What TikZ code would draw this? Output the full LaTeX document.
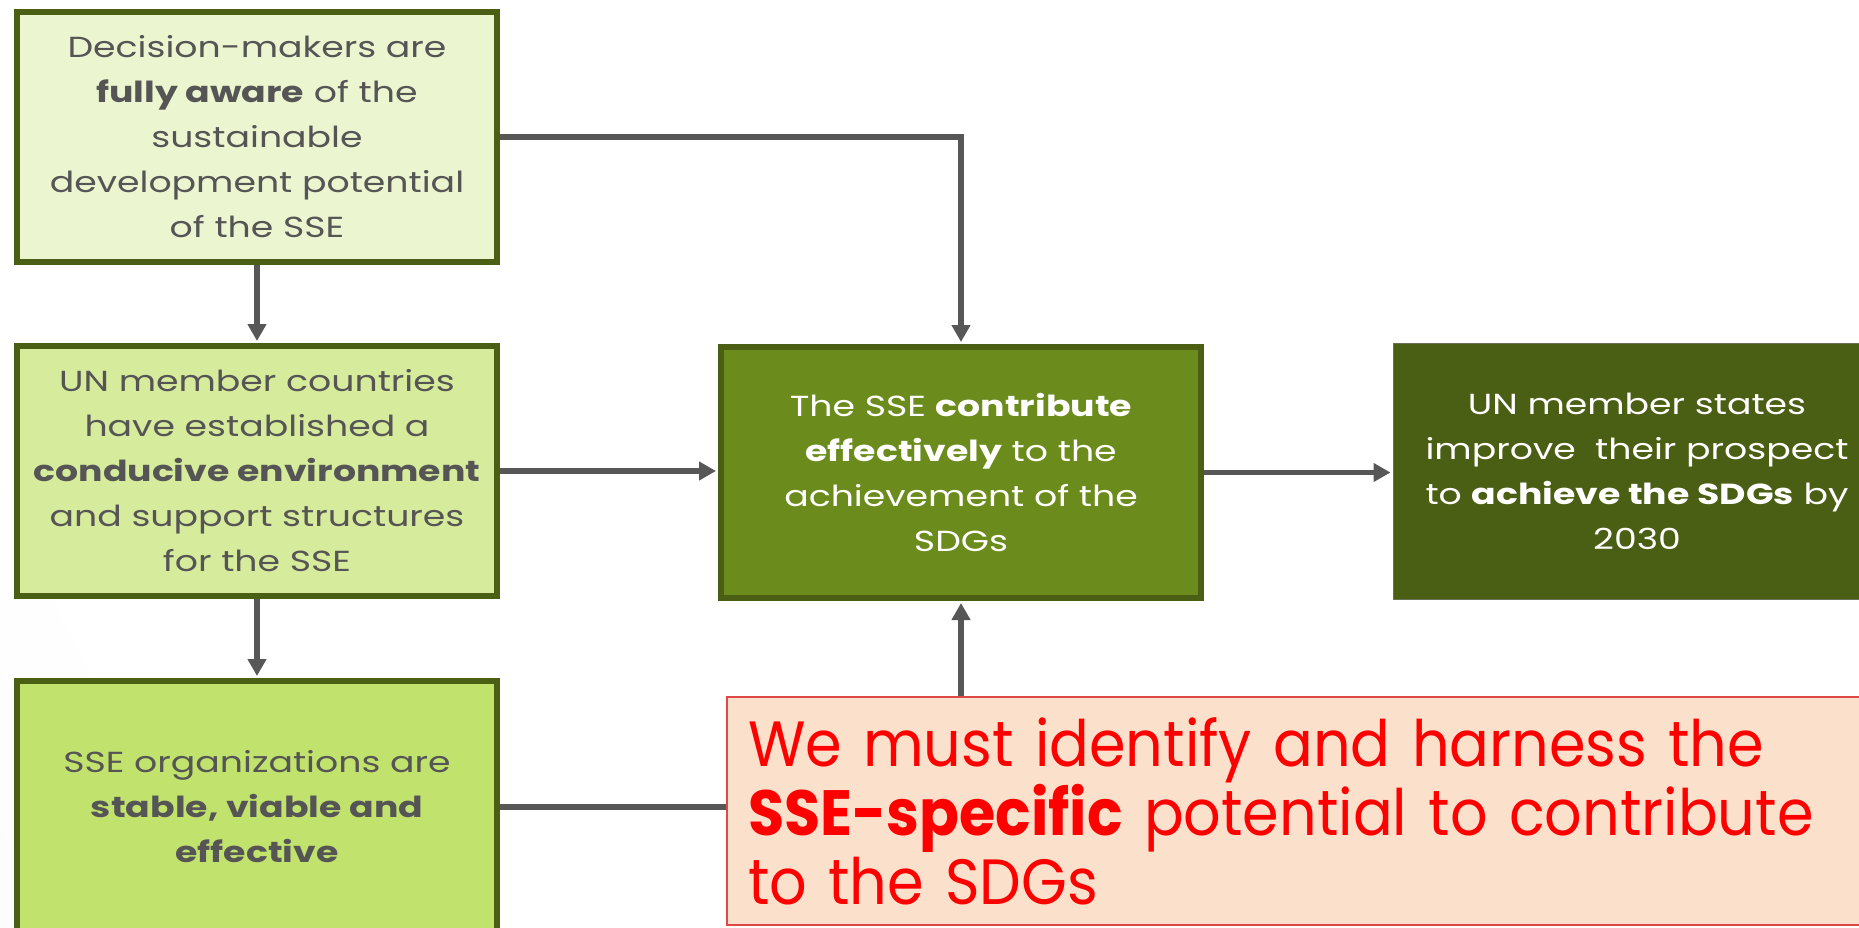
\documentclass[tikz,border=0pt]{standalone}
\usepackage{fontspec}
\setmainfont{Poppins}[FakeStretch=1.25]
\newfontfamily\redfont{Poppins}[FakeStretch=0.92]
\usetikzlibrary{arrows.meta,calc}
\definecolor{bord}{HTML}{4A5E14}
\definecolor{fa}{HTML}{EBF5D0}
\definecolor{fb}{HTML}{D7EB9C}
\definecolor{fc}{HTML}{C2E26E}
\definecolor{fd}{HTML}{6B8C1C}
\definecolor{fe}{HTML}{4A5E14}
\definecolor{txt}{HTML}{555555}
\definecolor{lin}{HTML}{575757}
\definecolor{redfill}{HTML}{FBE1CC}
\definecolor{redline}{HTML}{E04848}
\definecolor{redtxt}{HTML}{FF0000}
\definecolor{bgg}{HTML}{E3E3E3}
\pgfdeclareradialshading{bgshade}{\pgfpoint{0bp}{0bp}}{color(0bp)=(white); color(12bp)=(white); color(25bp)=(bgg); color(50bp)=(bgg)}
\tikzset{
  box/.style={draw=bord, line width=6pt, rectangle, minimum width=480pt, minimum height=250pt,
    inner sep=0pt, align=center, text=txt, font=\fontsize{29}{45}\selectfont},
  darkbox/.style={box, text=white},
  conn/.style={draw=lin, line width=5.5pt},
  arr/.style={conn, -{Triangle[length=17pt,width=18pt]}, shorten >=2pt},
}
\begin{document}
\begin{tikzpicture}[x=1pt,y=-1pt]
\useasboundingbox (0,0) rectangle (1859,927);
\begin{scope}
\clip (0,0) rectangle (1859,927);
\fill[bgg] (0,0) rectangle (1859,927);
\shade[shading=bgshade] (1900,-300) circle (4200);

\node[box, fill=fa] (b1) at (257,137) {Decision-makers are\\\textbf{fully aware} of the\\sustainable\\development potential\\of the SSE};
\node[box, fill=fb] (b2) at (257,471) {UN member countries\\have established a\\\textbf{conducive environment}\\and support structures\\for the SSE};
\node[box, fill=fc, minimum height=252pt] (b3) at (257,807) {SSE organizations are\\\textbf{stable, viable and}\\\textbf{effective}};
\node[darkbox, fill=fd, minimum height=251pt] (b4) at (961,472.5) {The SSE \textbf{contribute}\\\textbf{effectively} to the\\achievement of the\\SDGs};
\node[darkbox, fill=fe, draw=gray!60!fe, line width=1pt, minimum width=488pt, minimum height=256pt] (b5) at (1637,471) {UN member states\\improve\ \ their prospect\\to \textbf{achieve the SDGs} by\\2030};
\node[draw=redline, line width=1.5pt, fill=redfill, rectangle, minimum height=228pt,
  text width=1160pt, inner xsep=21pt, inner ysep=0pt, align=left, text=redtxt,
  font=\redfont\fontsize{64}{69}\selectfont] (rd) at (1328,811)
  {\hyphenpenalty=10000 We must identify and harness the\\\textbf{SSE-specific} potential to contribute\\to the SDGs};

\draw[arr] (b1.east) -| (b4.north);
\draw[arr] (b1.south) -- (b2.north);
\draw[arr] (b2.south) -- (b3.north);
\draw[arr] (b2.east) -- (b4.west |- b2.east);
\draw[arr] (b4.east) -- (b5.west |- b4.east);
\draw[arr] (rd.north -| b4.south) -- (b4.south);
\draw[conn] (b3.east) -- (rd.west |- b3.east);
\end{scope}
\end{tikzpicture}
\end{document}
